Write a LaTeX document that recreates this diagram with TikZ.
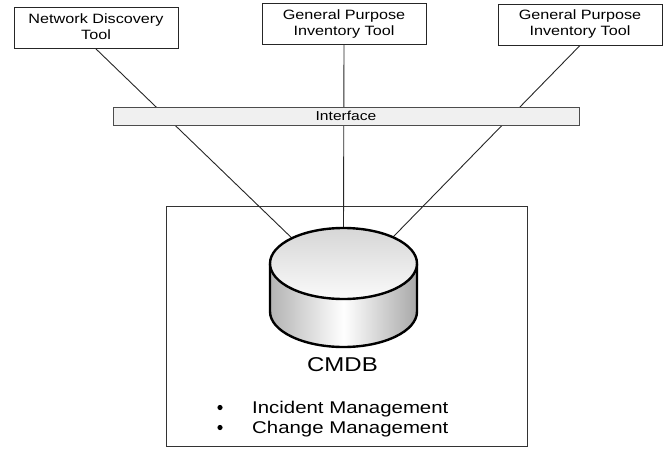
\documentclass[tikz,border=0pt]{standalone}
\usepackage{graphicx}
\usepackage{fontspec}
\setmainfont{Liberation Sans}
\usetikzlibrary{calc}

% horizontally widened text, as in the drawing
\newcommand\widetext[1]{\scalebox{1.2}[1]{#1}}
\newcommand\twolines[2]{\widetext{\begin{tabular}{@{}c@{}}#1\\#2\end{tabular}}}

\begin{document}
\begin{tikzpicture}[x=1pt,y=-1pt,
  tool/.style={draw=black!85, line width=0.9pt, fill=white,
    minimum width=164pt, minimum height=41pt, inner sep=0pt,
    font=\fontsize{13.5}{16}\selectfont},
  link/.style={draw=black!85, line width=0.9pt},
  frame/.style={draw=black!80, line width=1pt, minimum width=361pt,
    minimum height=240pt, inner sep=0pt},
  bar/.style={draw=black!70, fill=black!6, line width=0.9pt,
    minimum width=466pt, minimum height=18pt, inner sep=0pt,
    font=\fontsize{13}{15}\selectfont},
  dbline/.style={draw=black, line width=2.4pt},
  item/.style={anchor=base west, inner sep=0pt,
    font=\fontsize{17}{20}\selectfont},
]
\useasboundingbox (0,0) rectangle (669,450);

% system frame around the database
\node[frame] (sys) at (346.5,326) {};

% source tools
\node[tool] (ndt) at (96,28)   {\twolines{Network Discovery}{Tool}};
\node[tool] (gp1) at (344,24)  {\twolines{General Purpose}{Inventory Tool}};
\node[tool] (gp2) at (580,24.5){\twolines{General Purpose}{Inventory Tool}};

% database centre and connection points on its top rim
\coordinate (db) at (343.5,263.5);
\coordinate (dbL) at ($(db)+(134.5:73.5pt and 35.5pt)$);
\coordinate (dbT) at ($(db)+(90:73.5pt and 35.5pt)$);
\coordinate (dbR) at ($(db)+(47.8:73.5pt and 35.5pt)$);

% connectors (pass behind the interface bar)
\draw[link] (ndt.south) -- (dbL);
\draw[link] (gp1.south) -- (dbT);
\draw[link] (gp2.south) -- (dbR);

% interface bar
\node[bar] (ifc) at (346,116) {\widetext{Interface}};

% database cylinder: shaded side, shaded top, heavy outline
\path[left color=black!30, right color=black!34, middle color=white]
  (270,263.5) -- (270,311.5)
  arc[start angle=180, end angle=360, x radius=73.5pt, y radius=35.5pt]
  -- (417,263.5) -- cycle;
\draw[dbline] (270,263.5) -- (270,311.5)
  arc[start angle=180, end angle=360, x radius=73.5pt, y radius=35.5pt]
  -- (417,263.5);
\draw[dbline, top color=black!16, bottom color=black!2]
  (db) ellipse[x radius=73.5pt, y radius=35.5pt];

% labels
\node[anchor=base, inner sep=0pt, font=\fontsize{20}{24}\selectfont]
  (cmdb) at (342.5,371) {\widetext{CMDB}};
\fill (220,407.5) circle (2.6pt);
\fill (220,427.5) circle (2.6pt);
\node[item] (inc) at (252,413) {\widetext{Incident Management}};
\node[item] (chg) at (252,433) {\widetext{Change Management}};
\end{tikzpicture}
\end{document}
